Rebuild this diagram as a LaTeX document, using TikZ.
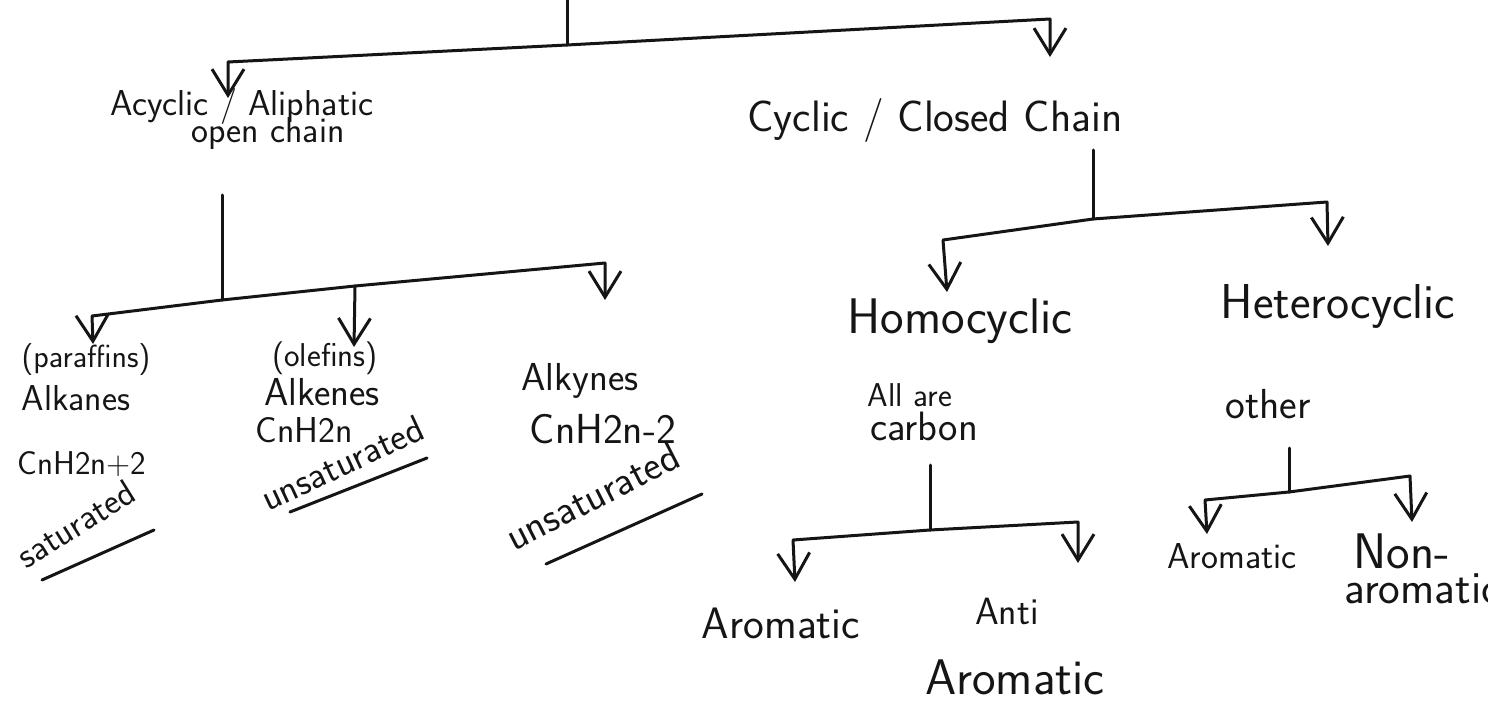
\documentclass[tikz,border=0pt]{standalone}
\usepackage{fontspec}
\usetikzlibrary{arrows.meta}
\definecolor{inkc}{HTML}{151515}
\begin{document}
\begin{tikzpicture}[x=1pt,y=-1pt,
  line width=3pt, line cap=round, line join=round,
  wire/.style={draw=inkc},
  arr/.style={draw=inkc, -{Straight Barb[length=26pt,width=32pt,line width=3pt]}},
  lbl/.style={inner sep=0pt, text=inkc, anchor=base},
  sz/.style={font=\sffamily\fontsize{#1}{#1}\selectfont}]
\useasboundingbox[fill=white] (0,0) rectangle (1488,711);

% ---- labels ----
\node[lbl,sz=36] (acyc) at (242,116) {Acyclic / Aliphatic};
\node[lbl,sz=36] (open) at (268,143) {open chain};
\node[lbl,sz=44] (cyc)  at (935,132) {Cyclic / Closed Chain};

\node[lbl,sz=32] (par)  at (86,367)  {(paraffins)};
\node[lbl,sz=36] (alka) at (76,410)  {Alkanes};
\node[lbl,sz=33] (fa)   at (82,474)  {CnH2n+2};
\node[lbl,sz=36,anchor=center,rotate=32] (sat) at (76,524) {saturated};

\node[lbl,sz=33] (ole)  at (325,366) {(olefins)};
\node[lbl,sz=39] (alke) at (322,405) {Alkenes};
\node[lbl,sz=36] (fe)   at (304,442) {CnH2n};
\node[lbl,sz=38,anchor=center,rotate=25] (uns1) at (342,463) {unsaturated};

\node[lbl,sz=39] (alky) at (580,390) {Alkynes};
\node[lbl,sz=42] (fy)   at (603,443) {CnH2n-2};
\node[lbl,sz=41,anchor=center,rotate=27] (uns2) at (592,496) {unsaturated};

\node[lbl,sz=50] (homo) at (960,333) {Homocyclic};
\node[lbl,sz=49] (hete) at (1338,318) {Heterocyclic};
\node[lbl,sz=33] (allc) at (910,406) {All are};
\node[lbl,sz=41] (carb) at (924,440) {carbon};
\node[lbl,sz=42] (oth)  at (1268,418) {other};

\node[lbl,sz=44] (aro1) at (781,638) {Aromatic};
\node[lbl,sz=38] (anti) at (1007,624) {Anti};
\node[lbl,sz=50] (aro2) at (1015,694) {Aromatic};
\node[lbl,sz=36] (aro3) at (1232,568) {Aromatic};
\node[lbl,sz=50,anchor=base west] (non)  at (1352,568) {Non-};
\node[lbl,sz=46,anchor=base west] (naro) at (1343,603) {aromatic};

% ---- underlines ----
\draw[wire] (42,580) -- (154,530);
\draw[wire] (290,512) -- (427,458);
\draw[wire] (546,564) -- (702,494);

% ---- branch points ----
\coordinate (r0) at (567,-10);  \coordinate (j0) at (567,45);
\coordinate (c0l) at (228,62);  \coordinate (t0l) at (228,98);
\coordinate (c0r) at (1050,19); \coordinate (t0r) at (1050,57);

\coordinate (s1) at (222,195);  \coordinate (j1) at (222,300);
\coordinate (c1l) at (92,316);  \coordinate (t1l) at (93,344);
\coordinate (c1m) at (355,286); \coordinate (t1m) at (354,347);
\coordinate (c1r) at (605,263); \coordinate (t1r) at (605,300);

\coordinate (s2) at (1093,150); \coordinate (j2) at (1093,219);
\coordinate (c2l) at (943,240); \coordinate (t2l) at (947,292);
\coordinate (c2r) at (1327,202);\coordinate (t2r) at (1328,246);

\coordinate (s3) at (930,465);  \coordinate (j3) at (930,530);
\coordinate (c3l) at (793,540); \coordinate (t3l) at (795,582);
\coordinate (c3r) at (1078,522);\coordinate (t3r) at (1078,563);

\coordinate (s4) at (1289,448); \coordinate (j4) at (1289,492);
\coordinate (c4l) at (1205,500);\coordinate (t4l) at (1207,534);
\coordinate (c4r) at (1410,476);\coordinate (t4r) at (1412,522);

% ---- connectors ----
\draw[wire] (r0) -- (j0);
\draw[arr] (j0) -- (c0l) -- (t0l);
\draw[arr] (j0) -- (c0r) -- (t0r);

\draw[wire] (s1) -- (j1);
\draw[arr] (j1) -- (c1l) -- (t1l);
\draw[wire] (j1) -- (c1m);
\draw[arr] (c1m) -- (t1m);
\draw[arr] (c1m) -- (c1r) -- (t1r);

\draw[wire] (s2) -- (j2);
\draw[arr] (j2) -- (c2l) -- (t2l);
\draw[arr] (j2) -- (c2r) -- (t2r);

\draw[wire] (s3) -- (j3);
\draw[arr] (j3) -- (c3l) -- (t3l);
\draw[arr] (j3) -- (c3r) -- (t3r);

\draw[wire] (s4) -- (j4);
\draw[arr] (j4) -- (c4l) -- (t4l);
\draw[arr] (j4) -- (c4r) -- (t4r);
\end{tikzpicture}
\end{document}
